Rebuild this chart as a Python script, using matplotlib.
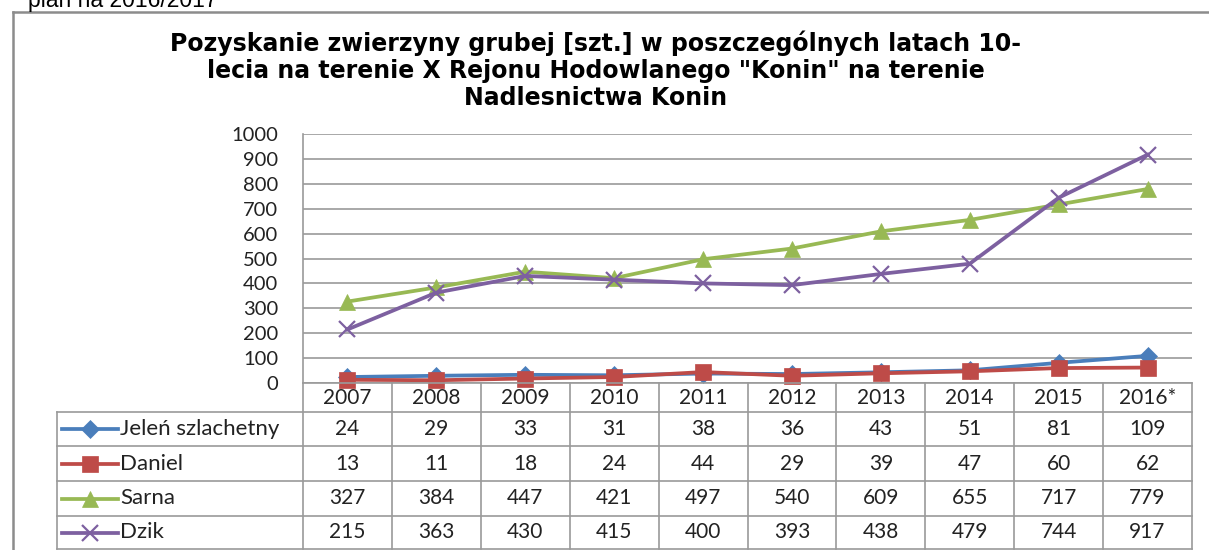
import matplotlib.pyplot as plt
from matplotlib.lines import Line2D

years = ['2007', '2008', '2009', '2010', '2011', '2012', '2013', '2014', '2015', '2016*']
names = ['Jeleń szlachetny', 'Daniel', 'Sarna', 'Dzik']
jelen = [24, 29, 33, 31, 38, 36, 43, 51, 81, 109]
daniel = [13, 11, 18, 24, 44, 29, 39, 47, 60, 62]
sarna = [327, 384, 447, 421, 497, 540, 609, 655, 717, 779]
dzik = [215, 363, 430, 415, 400, 393, 438, 479, 744, 917]
yticks = list(range(0, 1001, 100))

title = ('Pozyskanie zwierzyny grubej [szt.] w poszczególnych latach 10-\n'
         'lecia na terenie X Rejonu Hodowlanego "Konin" na terenie\n'
         'Nadlesnictwa Konin')

series = [jelen, daniel, sarna, dzik]
colors = ['#4A7EBB', '#BE4B48', '#98B954', '#7D60A0']
markers = ['D', 's', '^', 'x']
msizes = [9, 11, 12, 12]

W, H = 1209, 550
GRID = '#9a9a9a'
NUM_FONT = ['Lato', 'DejaVu Sans']


def box(l, t, r, b):
    return [l / W, 1 - b / H, (r - l) / W, (b - t) / H]


fig = plt.figure(figsize=(W / 100, H / 100), dpi=100)

# outer frame (partly cut off like the source)
fig.add_artist(Line2D([13 / W, 13 / W], [0, 1 - 12 / H], color='#8c8c8c', lw=1.8))
fig.add_artist(Line2D([13 / W, 1], [1 - 12 / H, 1 - 12 / H], color='#8c8c8c', lw=1.8))
fig.text(28 / W, 1 - 7 / H, 'plan na 2016/2017', fontsize=16.5,
         family=['Liberation Sans', 'DejaVu Sans'], va='baseline', ha='left')

fig.text(596 / W, 1 - 70 / H, title, fontsize=17, fontweight='bold',
         family=['DejaVu Sans'], ha='center', va='center', linespacing=1.15)

# chart
ax = fig.add_axes(box(303, 134, 1192, 383))
x = list(range(len(years)))
for vals, c, m, ms in zip(series, colors, markers, msizes):
    ax.plot(x, vals, color=c, lw=2.7, marker=m, ms=ms, mfc=c, mec=c,
            mew=1.6 if m == 'x' else 0.5, clip_on=False, zorder=3)
ax.set_xlim(-0.5, len(years) - 0.5)
ax.set_ylim(0, 1000)
ax.set_yticks(yticks)
ax.set_yticklabels([str(v) for v in yticks], fontsize=14.5, family=NUM_FONT,
                   color='#222222')
ax.tick_params(axis='y', length=0, pad=18)
ax.set_xticks([])
ax.yaxis.grid(True, color=GRID, lw=1.2)
ax.set_axisbelow(True)
for s in ['top', 'right', 'bottom']:
    ax.spines[s].set_visible(False)
ax.spines['left'].set_color(GRID)
ax.spines['left'].set_linewidth(1.2)

# data table
tab = fig.add_axes(box(57, 383, 1192, 550))
unit = 889 / len(years)
lab_w = (303 - 57) / unit
left = -0.5 - lab_w
right = len(years) - 0.5
tab.set_xlim(left, right)
tab.set_ylim(167, 0)
tab.axis('off')
edges = [0, 29, 63, 98, 133, 166]

for i in range(len(years) + 1):
    tab.plot([i - 0.5, i - 0.5], [edges[0], edges[-1]], color=GRID, lw=1.2, clip_on=False)
tab.plot([left, left], [edges[1], edges[-1]], color=GRID, lw=1.2, clip_on=False)
tab.plot([-0.5, right], [edges[0], edges[0]], color=GRID, lw=1.2, clip_on=False)
for e in edges[1:]:
    tab.plot([left, right], [e, e], color=GRID, lw=1.2, clip_on=False)

for i, yr in enumerate(years):
    tab.text(i, (edges[0] + edges[1]) / 2, yr, ha='center', va='center',
             fontsize=15, family=NUM_FONT, color='#222222')

lx0 = (62 - 303) / unit - 0.5
lx1 = (118 - 303) / unit - 0.5
tx = (120 - 303) / unit - 0.5
for r, (name, vals, c, m, ms) in enumerate(zip(names, series, colors, markers, msizes)):
    yc = (edges[r + 1] + edges[r + 2]) / 2
    tab.plot([lx0, lx1], [yc, yc], color=c, lw=2.7, clip_on=False)
    tab.plot([(lx0 + lx1) / 2], [yc], marker=m, ms=ms, color=c, mec=c,
             mew=1.6 if m == 'x' else 0.5, clip_on=False)
    tab.text(tx, yc, name, ha='left', va='center', fontsize=16,
             family=NUM_FONT, color='#222222')
    for i, v in enumerate(vals):
        tab.text(i, yc, str(v), ha='center', va='center', fontsize=15,
                 family=NUM_FONT, color='#222222')

fig.savefig('out.png', dpi=100)
